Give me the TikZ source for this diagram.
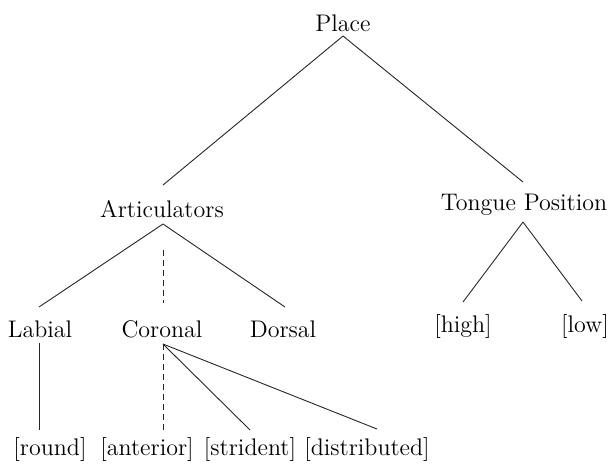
\documentclass[tikz,border=0pt]{standalone}
\begin{document}
\begin{tikzpicture}[x=0.5pt,y=-0.5pt,
  lab/.style={font=\fontsize{12}{14}\selectfont, inner sep=0pt, anchor=base},
  br/.style={line width=0.45pt, black!85},
  dsh/.style={br, dash pattern=on 3pt off 2pt}]
\useasboundingbox (0,0) rectangle (613,463);
% nodes
\node[lab] (place) at (343,31) {Place};
\node[lab] (artic) at (162,217) {Articulators};
\node[lab] (tongue) at (524,210) {Tongue Position};
\node[lab] (labial) at (40,337) {Labial};
\node[lab] (coronal) at (162,337) {Coronal};
\node[lab] (dorsal) at (283,337) {Dorsal};
\node[lab] (high) at (463,332) {[high]};
\node[lab] (low) at (585,332) {[low]};
\node[lab] (round) at (50,455) {[round]};
\node[lab] (anterior) at (147,455) {[anterior]};
\node[lab] (strident) at (250,455) {[strident]};
\node[lab] (distributed) at (367,455) {[distributed]};
% connectors
\draw[br] ([yshift=-2.5pt]place.base) -- ([xshift=0.5pt,yshift=16pt]artic.base);
\draw[br] ([yshift=-2.5pt]place.base) -- ([xshift=-0.5pt,yshift=14pt]tongue.base);
\draw[br] ([xshift=0.5pt,yshift=-3.5pt]artic.base) -- ([xshift=-0.5pt,yshift=15pt]labial.base);
\draw[dsh] ([xshift=0.5pt,yshift=-16.5pt]artic.base) -- ([xshift=0.5pt,yshift=17pt]coronal.base);
\draw[br] ([xshift=0.5pt,yshift=-3.5pt]artic.base) -- ([xshift=1pt,yshift=15pt]dorsal.base);
\draw[br] ([xshift=-0.5pt,yshift=-6pt]tongue.base) -- ([yshift=15pt]high.base);
\draw[br] ([xshift=-0.5pt,yshift=-6pt]tongue.base) -- ([xshift=-1.5pt,yshift=15.5pt]low.base);
\draw[br] ([xshift=-0.5pt,yshift=-3pt]labial.base) -- ([xshift=-5.5pt,yshift=12.5pt]round.base);
\draw[dsh] ([xshift=0.5pt,yshift=-3.5pt]coronal.base) -- ([xshift=8pt,yshift=12.5pt]anterior.base);
\draw[br] ([xshift=0.5pt,yshift=-3.5pt]coronal.base) -- ([yshift=12.5pt]strident.base);
\draw[br] ([xshift=0.5pt,yshift=-3.5pt]coronal.base) -- ([xshift=5pt,yshift=13pt]distributed.base);
\end{tikzpicture}
\end{document}
